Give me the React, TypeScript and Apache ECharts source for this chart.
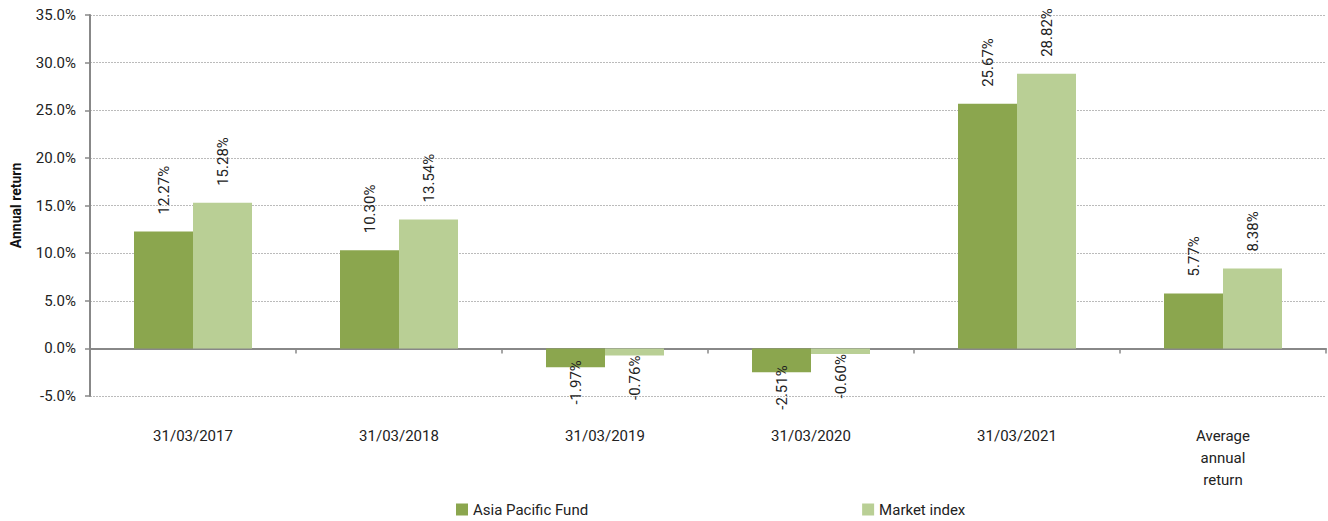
import React, { useEffect, useRef } from "react";
import * as echarts from "echarts";

const categories = ["31/03/2017", "31/03/2018", "31/03/2019", "31/03/2020", "31/03/2021", "Average\nannual\nreturn"];
const fundValues = [12.27, 10.3, -1.97, -2.51, 25.67, 5.77];
const indexValues = [15.28, 13.54, -0.76, -0.6, 28.82, 8.38];
const seriesNames = ["Asia Pacific Fund", "Market index"];
const colors = ["#8BA64E", "#B9CF95"];

const FONT = "Roboto, 'Noto Sans', sans-serif";

function buildData(values: number[], negDistance: number) {
  return values.map((v) => ({
    value: v,
    label:
      v < 0
        ? { position: "bottom", align: "right", distance: negDistance }
        : { position: "top", align: "left", distance: 17 },
  }));
}

export default function App() {
  const ref = useRef<HTMLDivElement>(null);
  useEffect(() => {
    if (!ref.current) return;
    const chart = echarts.init(ref.current, undefined, { renderer: "svg" });
    const labelBase = {
      show: true,
      rotate: 90,
      verticalAlign: "middle",
      color: "#222",
      fontFamily: FONT,
      fontSize: 15,
      formatter: (p: any) => p.value.toFixed(2) + "%",
    };
    chart.setOption({
      animation: false,
      textStyle: { fontFamily: FONT },
      grid: { left: 90, right: 2, top: 15, bottom: 125, outerBoundsMode: "none", containLabel: false },
      legend: {
        left: 451,
        top: 497,
        itemWidth: 12,
        itemHeight: 12,
        itemGap: 274,
        icon: "rect",
        textStyle: { fontSize: 15, color: "#222", fontFamily: FONT },
        data: seriesNames,
      },
      xAxis: {
        type: "category",
        data: categories,
        axisLine: { onZero: true, lineStyle: { color: "#888", width: 2 } },
        axisTick: { show: true, length: 5, lineStyle: { color: "#888", width: 1.5 } },
        axisLabel: {
          margin: 29,
          fontSize: 15,
          color: "#222",
          fontFamily: FONT,
          lineHeight: 22,
          interval: 0,
        },
      },
      yAxis: {
        type: "value",
        min: -5,
        max: 35,
        interval: 5,
        name: "Annual return",
        nameLocation: "middle",
        nameGap: 67,
        nameTextStyle: { fontSize: 14, fontWeight: "bold", color: "#111", fontFamily: FONT },
        axisLine: { show: true, lineStyle: { color: "#888", width: 2 } },
        axisTick: { show: true, length: 5, lineStyle: { color: "#888", width: 1.5 } },
        axisLabel: {
          formatter: (v: number) => v.toFixed(1) + "%",
          fontSize: 15,
          color: "#222",
          fontFamily: FONT,
          margin: 14,
        },
        splitLine: { lineStyle: { color: "#bbb", type: [2, 1], width: 1 } },
      },
      series: [
        {
          name: seriesNames[0],
          type: "bar",
          barWidth: 59,
          barGap: "0%",
          itemStyle: { color: colors[0] },
          label: labelBase,
          data: buildData(fundValues, -7),
        },
        {
          name: seriesNames[1],
          type: "bar",
          barWidth: 59,
          barGap: "0%",
          itemStyle: { color: colors[1] },
          label: labelBase,
          data: buildData(indexValues, 0),
        },
      ],
    });
    return () => chart.dispose();
  }, []);
  return (
    <div
      ref={ref}
      style={{ position: "fixed", left: 0, top: 0, width: 1328, height: 521, background: "#fff" }}
    />
  );
}
